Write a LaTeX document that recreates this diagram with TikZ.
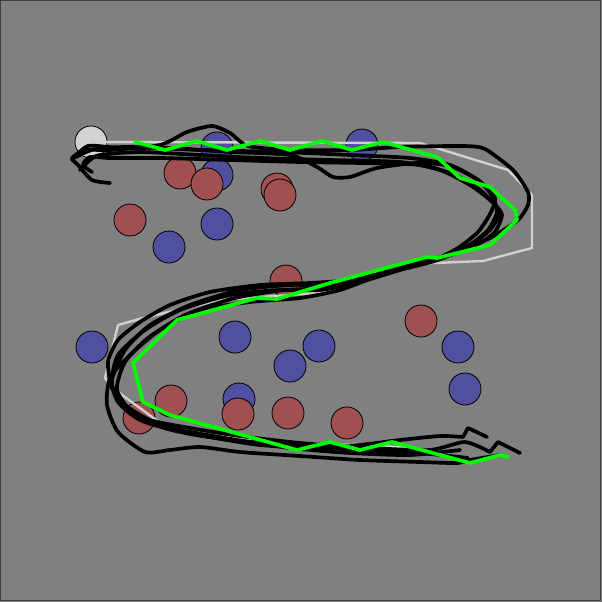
\documentclass[tikz,border=0pt]{standalone}
\begin{document}
\begin{tikzpicture}[x=1pt,y=-1pt,
  bluec/.style={fill=blueball,draw=black,line width=0.8pt},
  redc/.style={fill=redball,draw=black,line width=0.8pt},
  trail/.style={draw=black,line width=3.7pt,line join=round,line cap=round},
  ref/.style={draw=refgray,line width=2.4pt,line join=round},
  best/.style={draw=bestgreen,line width=3.7pt,line join=round,line cap=round}]
\definecolor{bg}{HTML}{808080}
\definecolor{blueball}{HTML}{5050A0}
\definecolor{redball}{HTML}{A05050}
\definecolor{refgray}{HTML}{D0D0D0}
\definecolor{bestgreen}{HTML}{00FF00}
\definecolor{startgray}{HTML}{D3D3D3}
\useasboundingbox (0,0) rectangle (602,602);
\fill[bg] (0,0) rectangle (602,602);
\draw[draw=black!75,line width=1pt] (0.5,0.5) rectangle (600.5,600.5);
% start
\draw[fill=startgray,draw=black,line width=0.8pt] (91,142) circle (16);
% blue circles
\foreach \p in {(217,148),(217,175),(217,224),(169,247),(362,145),(92,347),(235,337),(290,366),(319,346),(239,399),(458,347),(465,389)}
  \draw[bluec] \p circle (16);
% red circles
\foreach \p in {(180,173),(207,184),(130,220),(277,189),(280,195),(286,281),(421,321),(171,401),(139,418),(238,414),(288,413),(347,423)}
  \draw[redc] \p circle (16);
% reference path
\draw[ref] (91,142) -- (420,143) -- (508,170) -- (532,195) -- (532,248) -- (483,261) -- (410,264) -- (330,292) -- (220,300) -- (143,318) -- (118,325) -- (105,378) -- (118,392) -- (163,425) -- (180,433) -- (300,443) -- (400,447) -- (470,459);
% black trails
\draw[trail] plot[smooth,tension=0.4] coordinates {(110,183) (92,180) (78,165) (72,158) (85,150) (110,150) (160,145) (187,132) (212,126) (230,133) (248,146) (290,150) (350,150) (400,147) (463,146) (485,149) (513,170) (528,192) (528,205) (518,220) (490,238) (450,255) (420,262) (380,275) (340,290) (300,298) (250,302) (200,310) (160,330) (130,355) (110,378) (107,405) (118,432) (145,452) (170,450) (200,447) (240,452) (300,456) (360,460) (420,462) (457,463) (470,460) (500,455)};
\draw[trail] plot[smooth,tension=0.4] coordinates {(72,160) (88,146) (120,148) (170,148) (230,152) (290,155) (317,167) (333,177) (350,177) (377,168) (417,163) (450,166) (478,180) (495,198) (490,214) (478,232) (458,248) (430,262) (400,270) (360,282) (320,290) (280,290) (230,295) (180,310) (145,330) (118,355) (112,385) (130,410) (160,425) (200,435) (260,445) (330,448) (400,440) (440,436) (463,437)};
\draw[trail] (463,437) -- (468,428) -- (487,437);
\draw[trail] plot[smooth,tension=0.4] coordinates {(80,170) (90,160) (100,155) (140,152) (200,155) (260,158) (330,160) (400,162) (440,170) (470,185) (490,200) (500,212) (490,230) (470,245) (440,258) (410,265) (370,278) (330,285) (290,285) (240,290) (190,305) (150,325) (125,350) (112,380) (118,402) (140,420) (180,432) (230,440) (300,446) (360,450) (420,453) (468,458)};
\draw[trail] plot[smooth,tension=0.4] coordinates {(92,172) (83,165) (90,157) (110,158) (160,158) (230,160) (300,162) (360,163) (420,165) (455,175) (480,190) (495,205) (502,215) (495,232) (480,243) (450,255) (420,262) (385,272) (350,280) (310,283) (260,285) (210,292) (170,305) (140,322) (118,340) (108,362) (112,388) (125,405) (150,420) (190,428) (240,436) (300,443) (370,448) (430,450) (465,442) (490,452)};
\draw[trail] (490,452) -- (498,442) -- (520,453);
\draw[trail] plot[smooth,tension=0.4] coordinates {(76,157) (95,149) (130,147) (200,150) (280,152) (350,155) (410,158) (450,165) (478,180) (492,196) (497,212) (488,230) (468,246) (438,260) (405,268) (368,279) (325,288) (285,290) (235,298) (185,315) (148,338) (125,362) (117,390) (135,415) (170,428) (225,438) (290,448) (350,453) (410,455) (460,450)};
% best path
\draw[best] (135,142) -- (165,150) -- (197,141) -- (227,150) -- (260,141) -- (290,150) -- (322,141) -- (352,150) -- (383,142) -- (437,157) -- (460,178) -- (490,187) -- (515,210) -- (517,220) -- (490,245) -- (437,258) -- (427,257) -- (330,283) -- (277,299) -- (257,298) -- (177,320) -- (133,363) -- (143,402) -- (170,415) -- (297,450) -- (330,442) -- (360,450) -- (392,442) -- (470,463) -- (500,455) -- (508,457);
\end{tikzpicture}
\end{document}
